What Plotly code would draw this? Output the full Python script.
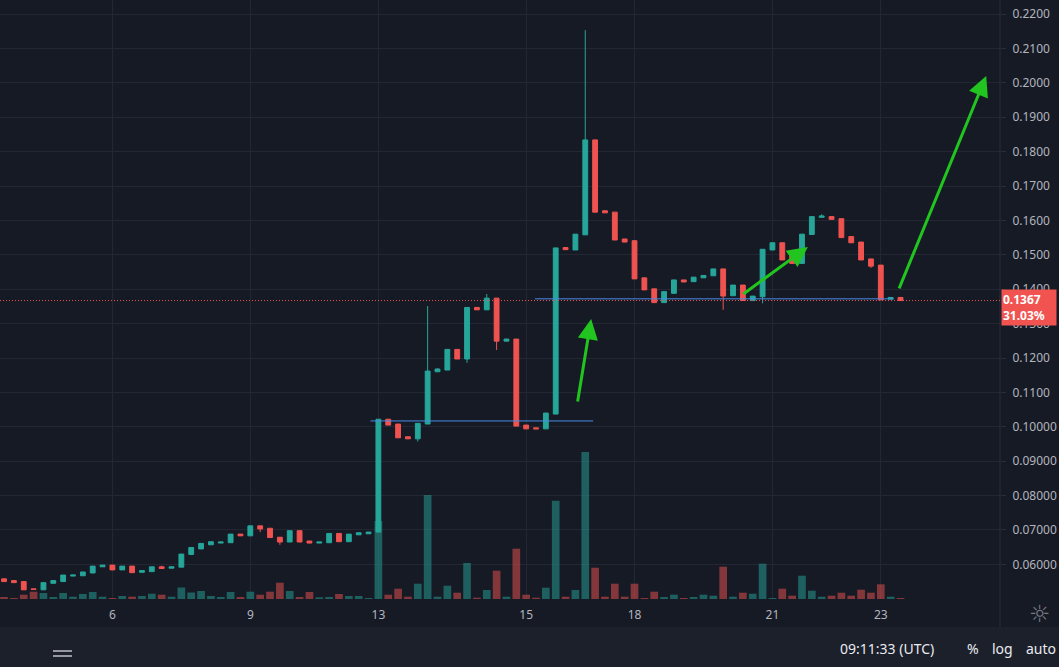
import plotly.graph_objects as go

# ---------------- data ----------------
bar_index = list(range(92))

open_ = [0.0558, 0.0553, 0.0550, 0.0529, 0.0526, 0.0545, 0.0550, 0.0566, 0.0567, 0.0575,
         0.0593, 0.0598, 0.0584, 0.0595, 0.0577, 0.0579, 0.0593, 0.0589, 0.0592, 0.0629,
         0.0645, 0.0657, 0.0662, 0.0663, 0.0688, 0.0683, 0.0712, 0.0705, 0.0679, 0.0665,
         0.0698, 0.0668, 0.0662, 0.0663, 0.0690, 0.0666, 0.0686, 0.0689, 0.0694, 0.1022,
         0.1008, 0.0971, 0.0965, 0.1008, 0.1160, 0.1165, 0.1225, 0.1197, 0.1347, 0.1340,
         0.1374, 0.1249, 0.1255, 0.1005, 0.0997, 0.0994, 0.1037, 0.1521, 0.1514, 0.1558,
         0.1834, 0.1628, 0.1624, 0.1546, 0.1541, 0.1433, 0.1401, 0.1361, 0.1388, 0.1427,
         0.1422, 0.1433, 0.1439, 0.1459, 0.1381, 0.1412, 0.1367, 0.1378, 0.1514, 0.1535,
         0.1504, 0.1475, 0.1559, 0.1609, 0.1611, 0.1605, 0.1553, 0.1537, 0.1488, 0.1470,
         0.1371, 0.1376]

high = [0.0558, 0.0553, 0.0550, 0.0529, 0.0547, 0.0553, 0.0569, 0.0569, 0.0578, 0.0595,
        0.0598, 0.0598, 0.0595, 0.0595, 0.0582, 0.0593, 0.0596, 0.0593, 0.0630, 0.0649,
        0.0661, 0.0666, 0.0665, 0.0688, 0.0688, 0.0712, 0.0712, 0.0705, 0.0679, 0.0698,
        0.0698, 0.0668, 0.0665, 0.0690, 0.0690, 0.0688, 0.0692, 0.0694, 0.1022, 0.1022,
        0.1008, 0.0971, 0.1010, 0.1351, 0.1170, 0.1225, 0.1225, 0.1347, 0.1347, 0.1386,
        0.1374, 0.1256, 0.1255, 0.1005, 0.0997, 0.1040, 0.1520, 0.1522, 0.1560, 0.2153,
        0.1834, 0.1628, 0.1624, 0.1546, 0.1541, 0.1433, 0.1401, 0.1393, 0.1427, 0.1427,
        0.1435, 0.1440, 0.1459, 0.1459, 0.1412, 0.1412, 0.1380, 0.1516, 0.1535, 0.1535,
        0.1504, 0.1560, 0.1611, 0.1618, 0.1611, 0.1605, 0.1553, 0.1537, 0.1488, 0.1470,
        0.1376, 0.1376]

low = [0.0550, 0.0547, 0.0526, 0.0527, 0.0526, 0.0545, 0.0550, 0.0566, 0.0567, 0.0575,
       0.0593, 0.0584, 0.0584, 0.0576, 0.0577, 0.0579, 0.0587, 0.0589, 0.0592, 0.0627,
       0.0645, 0.0657, 0.0662, 0.0663, 0.0683, 0.0683, 0.0694, 0.0678, 0.0657, 0.0665,
       0.0665, 0.0662, 0.0662, 0.0663, 0.0666, 0.0666, 0.0686, 0.0689, 0.0694, 0.1005,
       0.0968, 0.0965, 0.0957, 0.1008, 0.1160, 0.1165, 0.1197, 0.1186, 0.1340, 0.1340,
       0.1223, 0.1249, 0.1002, 0.0994, 0.0994, 0.0994, 0.1037, 0.1515, 0.1514, 0.1558,
       0.1624, 0.1622, 0.1543, 0.1537, 0.1430, 0.1398, 0.1361, 0.1361, 0.1388, 0.1421,
       0.1422, 0.1433, 0.1439, 0.1340, 0.1381, 0.1367, 0.1367, 0.1359, 0.1514, 0.1485,
       0.1475, 0.1475, 0.1559, 0.1609, 0.1603, 0.1550, 0.1535, 0.1485, 0.1462, 0.1369,
       0.1371, 0.1367]

close = [0.0550, 0.0547, 0.0526, 0.0527, 0.0547, 0.0553, 0.0569, 0.0569, 0.0578, 0.0595,
         0.0598, 0.0584, 0.0595, 0.0576, 0.0582, 0.0593, 0.0588, 0.0593, 0.0630, 0.0649,
         0.0661, 0.0666, 0.0665, 0.0688, 0.0683, 0.0712, 0.0703, 0.0678, 0.0665, 0.0698,
         0.0665, 0.0662, 0.0665, 0.0690, 0.0666, 0.0688, 0.0692, 0.0694, 0.1022, 0.1005,
         0.0968, 0.0965, 0.1010, 0.1162, 0.1168, 0.1225, 0.1197, 0.1347, 0.1340, 0.1374,
         0.1249, 0.1255, 0.1002, 0.0994, 0.0994, 0.1040, 0.1520, 0.1515, 0.1560, 0.1834,
         0.1624, 0.1622, 0.1543, 0.1537, 0.1430, 0.1398, 0.1361, 0.1393, 0.1427, 0.1421,
         0.1435, 0.1440, 0.1459, 0.1380, 0.1412, 0.1367, 0.1380, 0.1516, 0.1535, 0.1485,
         0.1475, 0.1560, 0.1611, 0.1613, 0.1603, 0.1550, 0.1535, 0.1485, 0.1467, 0.1369,
         0.1376, 0.1367]

volume_k = [20, 10, 43, 73, 60, 20, 60, 23, 50, 70,
            23, 10, 30, 23, 30, 53, 43, 23, 115, 65,
            80, 30, 20, 70, 20, 73, 43, 73, 163, 80,
            20, 70, 17, 20, 50, 30, 30, 10, 780, 43,
            103, 23, 153, 1040, 23, 133, 63, 360, 13, 90,
            283, 23, 503, 43, 13, 113, 983, 23, 90, 1470,
            313, 23, 153, 23, 153, 10, 73, 20, 43, 10,
            20, 43, 33, 323, 23, 63, 53, 353, 10, 103,
            33, 233, 83, 23, 33, 63, 33, 93, 63, 147,
            23, 10]

day_tick_index = [11, 25, 38, 53, 64, 78, 89]
day_tick_label = ["6", "9", "13", "15", "18", "21", "23"]

price_ticks = [0.06, 0.07, 0.08, 0.09, 0.10, 0.11, 0.12, 0.13, 0.14, 0.15,
               0.16, 0.17, 0.18, 0.19, 0.20, 0.21, 0.22]
price_tick_text = ["0.06000", "0.07000", "0.08000", "0.09000", "0.10000", "0.1100",
                   "0.1200", "0.1300", "0.1400", "0.1500", "0.1600", "0.1700",
                   "0.1800", "0.1900", "0.2000", "0.2100", "0.2200"]

last_price = 0.1367
last_change = "31.03%"

# horizontal drawn levels: (start index, end index, price)
level_start = [37.2, 53.9]
level_end = [59.8, 90.3]
level_price = [0.1017, 0.1372]

# green arrows: tail (index, price) -> head (index, price)
arrow_tail_x = [58.2, 74.9, 90.8]
arrow_tail_y = [0.1069, 0.1383, 0.1398]
arrow_head_x = [59.6, 81.6, 99.7]
arrow_head_y = [0.1313, 0.1523, 0.2020]

# ---------------- styling ----------------
BG = "#161a25"
GRID = "#232733"
UP = "#26a69a"
DOWN = "#ef5350"
UP_VOL = "rgba(38,166,154,0.5)"
DOWN_VOL = "rgba(239,83,80,0.5)"
TXT = "#b2b5be"
FONT = "Noto Sans"

vol_colors = [UP_VOL if c >= o else DOWN_VOL for o, c in zip(open_, close)]

fig = go.Figure()

fig.add_trace(go.Bar(
    x=bar_index, y=volume_k, marker=dict(color=vol_colors, line=dict(width=0)),
    width=0.78, yaxis="y", xaxis="x", hoverinfo="skip", showlegend=False))

fig.add_trace(go.Candlestick(
    x=bar_index, open=open_, high=high, low=low, close=close,
    increasing=dict(fillcolor=UP, line=dict(color=UP, width=1)),
    decreasing=dict(fillcolor=DOWN, line=dict(color=DOWN, width=1)),
    whiskerwidth=0, yaxis="y2", xaxis="x", showlegend=False, hoverinfo="skip"))

plot_h = 599.0
y_lo = 0.04994
y_hi = 0.22407


def py(pix):
    """pixel row below the plot area -> paper y"""
    return -(pix - plot_h) / plot_h


shapes = []
# bottom toolbar strip
shapes.append(dict(type="rect", xref="paper", yref="paper", x0=-0.01, x1=1.07,
                   y0=py(627), y1=py(667) - 0.01,
                   fillcolor="#1c202b", line=dict(width=0), layer="below"))
# price-scale separator
shapes.append(dict(type="line", xref="paper", yref="paper", x0=1.0, x1=1.0,
                   y0=1.0, y1=py(627), line=dict(color="#2a2e39", width=1)))
# drawn levels
for xs, xe, p in zip(level_start, level_end, level_price):
    shapes.append(dict(type="line", xref="x", yref="y2", x0=xs, x1=xe, y0=p, y1=p,
                       line=dict(color="#4a8be8", width=1)))
# last price dotted line
shapes.append(dict(type="line", xref="paper", yref="y2", x0=0, x1=1,
                   y0=last_price, y1=last_price,
                   line=dict(color=DOWN, width=1, dash="1px,2px")))
# hamburger icon
for yy in (651, 656):
    shapes.append(dict(type="line", xref="paper", yref="paper", x0=0.053, x1=0.072,
                       y0=py(yy), y1=py(yy), line=dict(color="#9598a1", width=2)))

annotations = []
for tx, ty, hx, hy in zip(arrow_tail_x, arrow_tail_y, arrow_head_x, arrow_head_y):
    annotations.append(dict(x=hx, y=hy, xref="x", yref="y2", ax=tx, ay=ty,
                            axref="x", ayref="y2", text="", showarrow=True,
                            arrowhead=2, arrowsize=1.35, arrowwidth=3,
                            arrowcolor="#22c41f", standoff=0))

annotations.append(dict(
    x=1.001, xref="paper", xanchor="left", y=0.1347, yref="y2", yanchor="middle",
    text="<b>%.4f</b><br><b>%s</b>" % (last_price, last_change), showarrow=False,
    align="left", bgcolor="#f05350", borderpad=1, width=52,
    font=dict(color="white", size=12, family=FONT)))

bottom_texts = [("09:11:33 (UTC)", 0.887), ("%", 0.973), ("log", 1.003), ("auto", 1.041)]
for t, xx in bottom_texts:
    annotations.append(dict(x=xx, y=py(648), xref="paper", yref="paper",
                            xanchor="center", yanchor="middle",
                            text=t, showarrow=False,
                            font=dict(color="#e8eaf0", size=14, family=FONT)))
annotations.append(dict(x=1.040, y=py(614), xref="paper", yref="paper",
                        xanchor="center", yanchor="middle",
                        text="☼", showarrow=False,
                        font=dict(color="#787b86", size=24, family="DejaVu Sans")))

fig.update_layout(
    width=1059, height=667,
    margin=dict(l=0, r=59, t=0, b=68),
    paper_bgcolor=BG, plot_bgcolor=BG,
    showlegend=False, hovermode=False,
    font=dict(family=FONT, color=TXT),
    xaxis=dict(range=[-0.41, 101.1], tickvals=day_tick_index, ticktext=day_tick_label,
               showgrid=True, gridcolor=GRID, gridwidth=1, zeroline=False,
               showline=False, ticks="", ticklabelstandoff=7,
               tickfont=dict(size=12, color=TXT, family=FONT),
               rangeslider=dict(visible=False), fixedrange=True),
    yaxis=dict(range=[0, max(volume_k) * plot_h / 147.0], visible=False,
               showgrid=False, zeroline=False, fixedrange=True),
    yaxis2=dict(overlaying="y", side="right", anchor="x", range=[y_lo, y_hi],
                tickvals=price_ticks, ticktext=price_tick_text,
                showgrid=True, gridcolor=GRID, gridwidth=1, zeroline=False,
                showline=False, ticks="outside", ticklen=5, tickcolor="#2a2e39",
                ticklabelstandoff=4,
                tickfont=dict(size=12, color=TXT, family=FONT), fixedrange=True),
    shapes=shapes, annotations=annotations,
)

fig.write_html("out.html")
